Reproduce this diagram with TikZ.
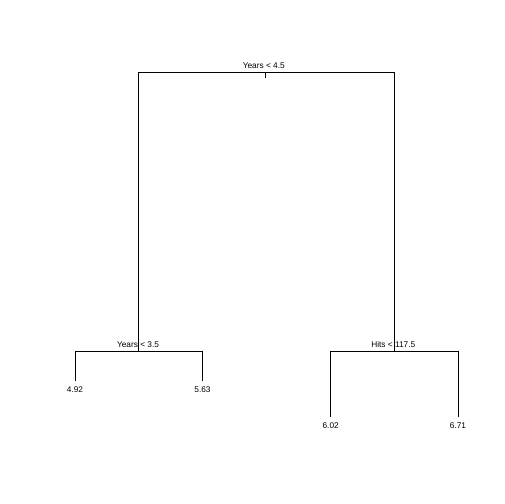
\documentclass[tikz,border=0pt]{standalone}
\usepackage{fontspec}
\setmainfont{Liberation Sans}
\begin{document}
\begin{tikzpicture}[x=1bp,y=-1bp,
  edge/.style={draw=black,line width=1bp},
  lbl/.style={inner sep=0pt,anchor=base,font=\fontsize{8.3bp}{10bp}\selectfont}]
\useasboundingbox[fill=white] (0,0) rectangle (504,504);
% split points
\coordinate (r) at (265.5,72.5);
\coordinate (rt) at (265.5,78.5);
\coordinate (L) at (138.5,351.5);
\coordinate (R) at (394.5,351.5);
\coordinate (l1) at (75.5,380.5);
\coordinate (l2) at (202.5,380.5);
\coordinate (r1) at (330.5,417);
\coordinate (r2) at (458.5,417);
% connectors
\draw[edge] (L) |- (r) -| (R);
\draw[edge] (r) -- (rt);
\draw[edge] (l1) |- (L) -| (l2);
\draw[edge] (r1) |- (R) -| (r2);
% labels
\node[lbl] (tr) at (263.8,68.5) {Years < 4.5};
\node[lbl] (tL) at (138,347) {Years < 3.5};
\node[lbl] (tR) at (393.3,347) {Hits < 117.5};
\node[lbl] (v1) at (75,392.5) {4.92};
\node[lbl] (v2) at (202.5,392.5) {5.63};
\node[lbl] (v3) at (330.7,428.5) {6.02};
\node[lbl] (v4) at (458,428.5) {6.71};
\end{tikzpicture}
\end{document}
